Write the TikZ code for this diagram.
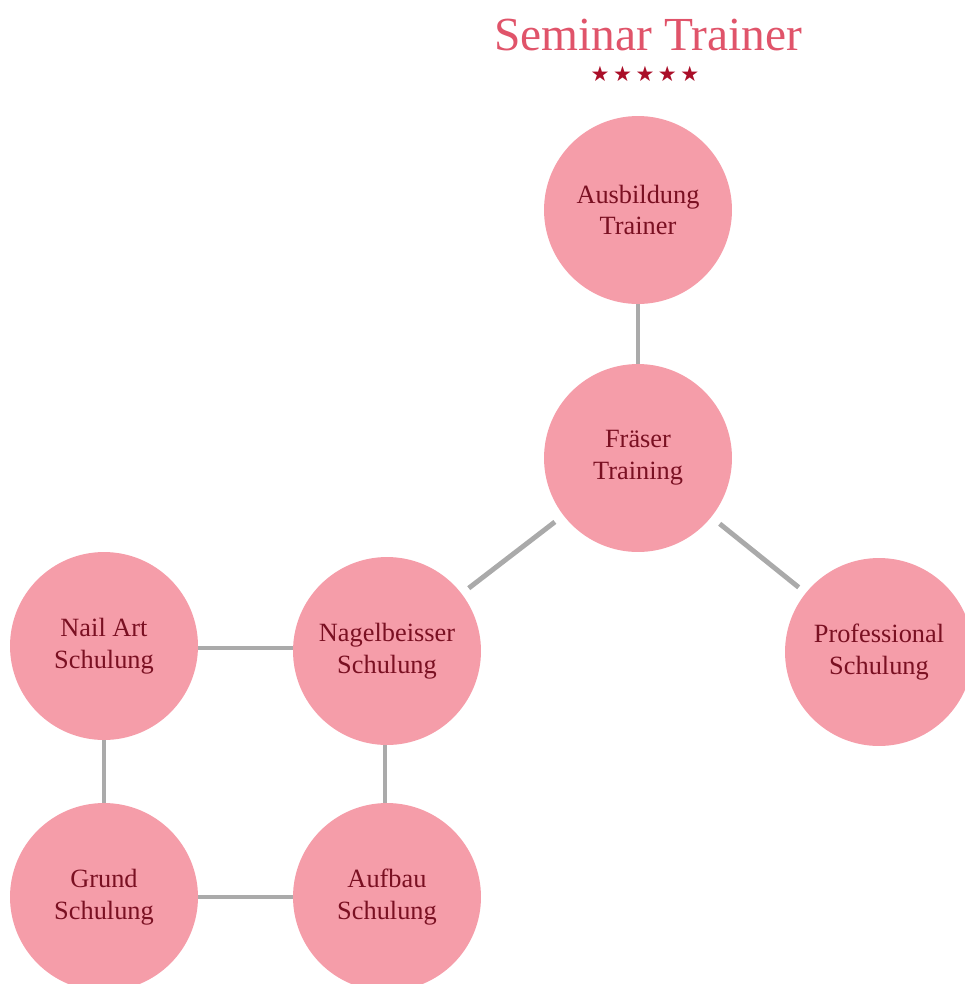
\documentclass[tikz,border=0pt]{standalone}
\usepackage{fontspec}
\setmainfont{Liberation Serif}
\newfontfamily\starfont{DejaVu Sans}
\usetikzlibrary{positioning}
\definecolor{rose}{RGB}{245,157,169}
\definecolor{wine}{RGB}{122,16,34}
\definecolor{titlered}{RGB}{224,84,106}
\definecolor{starred}{RGB}{170,14,40}
\definecolor{linkgray}{RGB}{170,170,170}
\tikzstyle{course} = [circle, fill=rose, minimum size=3.76cm, inner sep=0pt, align=center, text=wine, font=\fontsize{15}{18}\selectfont]
\tikzstyle{link} = [draw=linkgray, line width=2.8pt]

\begin{document}
\begin{tikzpicture}[x=0.02cm, y=-0.02cm]
    \useasboundingbox (0,0) rectangle (964,984);
    \node [text=titlered, font=\fontsize{27}{30}\selectfont] (title) at (648,35) {Seminar Trainer};
    \node [text=starred, font=\starfont\fontsize{12}{14}\selectfont] (stars) at (645,74) {★\,★\,★\,★\,★};
    \node [course] (ausbildung) at (638,210) {Ausbildung\\Trainer};
    \node [course] (fraeser) at (638,458) {Fräser\\Training};
    \node [course] (nagel) at (387,651) {Nagelbeisser\\Schulung};
    \node [course] (profi) at (879,652) {Professional\\Schulung};
    \node [course] (nailart) at (104,646) {Nail Art\\Schulung};
    \node [course] (grund) at (104,897) {Grund\\Schulung};
    \node [course] (aufbau) at (387,897) {Aufbau\\Schulung};
    \draw [link] (ausbildung) -- (fraeser);
    \draw [link, shorten <=6pt, shorten >=5pt] (fraeser) -- (nagel);
    \draw [link, shorten <=6pt, shorten >=5pt] (fraeser) -- (profi);
    \draw [link] (nailart.east |- 0,648) -- (nagel.west |- 0,648);
    \draw [link] (nailart) -- (grund);
    \draw [link] (nagel.south -| 385,0) -- (aufbau.north -| 385,0);
    \draw [link] (grund) -- (aufbau);
\end{tikzpicture}
\end{document}
